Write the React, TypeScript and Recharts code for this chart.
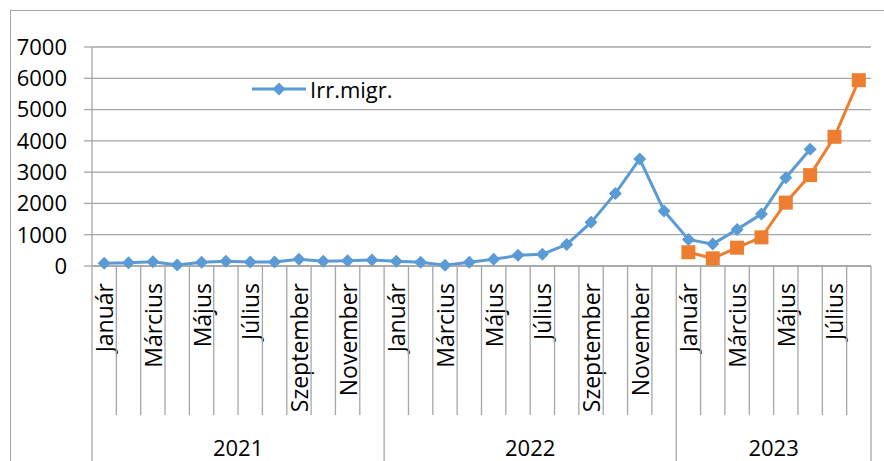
import { LineChart, Line, XAxis, YAxis, CartesianGrid } from 'recharts';

const monthNames = [
  'Január', 'Február', 'Március', 'Április', 'Május', 'Június',
  'Július', 'Augusztus', 'Szeptember', 'Október', 'November', 'December',
];
const years = ['2021', '2022', '2023'];
const monthsPerYear = [12, 12, 8];

// Irr.migr. – 2021 jan .. 2023 jún
const irrMigr = [
  90, 105, 135, 30, 120, 150, 130, 130, 215, 150, 170, 190,
  150, 120, 25, 120, 215, 340, 375, 690, 1395, 2320, 3420, 1760,
  850, 700, 1170, 1660, 2820, 3730,
];
// second series – 2023 jan .. aug
const series2023 = [440, 245, 585, 915, 2025, 2905, 4130, 5940];

const yTicks = [0, 1000, 2000, 3000, 4000, 5000, 6000, 7000];

const data = years.flatMap((year, yi) =>
  monthNames.slice(0, monthsPerYear[yi]).map((month, mi) => ({ year, month, mi }))
).map((d, i) => ({
  ...d,
  irr: i < irrMigr.length ? irrMigr[i] : null,
  s2: i >= 24 ? series2023[i - 24] : null,
}));

const W = 884;
const H = 461;
const M = { top: 47, right: 13, left: 0, bottom: 0 };
const Y_WIDTH = 92;
const X_HEIGHT = 195;
const PLOT_W = W - M.right - Y_WIDTH;
const BAND = PLOT_W / data.length;
const FONT = '"Open Sans", sans-serif';
const GRID = '#a6a6a6';
const BLUE = '#5b9bd5';
const ORANGE = '#ed7d31';

const Diamond = ({ cx, cy }: any) => {
  if (cx == null || cy == null) return null;
  return <path d={`M${cx},${cy - 6.5}L${cx + 6.5},${cy}L${cx},${cy + 6.5}L${cx - 6.5},${cy}Z`} fill={BLUE} />;
};

const Square = ({ cx, cy }: any) => {
  if (cx == null || cy == null) return null;
  return <rect x={cx - 7} y={cy - 7} width={14} height={14} fill={ORANGE} />;
};

const MonthTick = ({ x, y, index }: any) => {
  const d = data[index];
  const left = x - BAND / 2;
  const firstOfYear = d.mi === 0;
  const lastOne = index === data.length - 1;
  const yi = years.indexOf(d.year);
  const midIdx = Math.floor(monthsPerYear[yi] / 2);
  return (
    <g>
      <line x1={left} y1={y} x2={left} y2={firstOfYear ? H : y + 149} stroke={GRID} strokeWidth={1.3} />
      {lastOne && <line x1={x + BAND / 2} y1={y} x2={x + BAND / 2} y2={H} stroke={GRID} strokeWidth={1.3} />}
      {d.mi % 2 === 0 && (
        <text
          x={x}
          y={y + 17}
          transform={`rotate(-90 ${x} ${y + 17})`}
          textAnchor="end"
          dominantBaseline="central"
          fontSize={23}
          fontFamily={FONT}
          fill="#000"
        >
          {d.month}
        </text>
      )}
      {d.mi === midIdx && (
        <text
          x={monthsPerYear[yi] % 2 === 0 ? left : x}
          y={y + 181}
          textAnchor="middle"
          dominantBaseline="central"
          fontSize={22}
          fontFamily={FONT}
          fill="#000"
        >
          {d.year}
        </text>
      )}
    </g>
  );
};

export default function App() {
  return (
    <div style={{ position: 'relative', width: W, height: H, overflow: 'hidden', background: '#fff' }}>
      <style>{'body{margin:0}'}</style>
      <div
        style={{
          position: 'absolute', left: 10, top: 10, width: W, height: H,
          borderLeft: `1.5px solid ${GRID}`, borderTop: `1.5px solid ${GRID}`,
        }}
      />
      <LineChart width={W} height={H} data={data} margin={M} style={{ position: 'absolute', left: 0, top: 0 }}>
        <CartesianGrid vertical={false} stroke={GRID} strokeWidth={1.3} />
        <XAxis
          dataKey="month"
          interval={0}
          height={X_HEIGHT}
          tickSize={0}
          tickMargin={0}
          tickLine={false}
          padding={{ left: BAND / 2, right: BAND / 2 }}
          axisLine={{ stroke: GRID, strokeWidth: 1.3 }}
          tick={<MonthTick />}
          allowDuplicatedCategory
        />
        <YAxis
          width={Y_WIDTH}
          domain={[0, 7000]}
          ticks={yTicks}
          interval={0}
          tickSize={8}
          tickMargin={17}
          axisLine={{ stroke: GRID, strokeWidth: 1.3 }}
          tickLine={{ stroke: GRID, strokeWidth: 1.3 }}
          tick={{ fill: '#000', fontSize: 22, fontFamily: FONT }}
        />
        <Line
          dataKey="irr"
          name="Irr.migr."
          stroke={BLUE}
          strokeWidth={3}
          dot={<Diamond />}
          activeDot={false}
          isAnimationActive={false}
        />
        <Line
          dataKey="s2"
          stroke={ORANGE}
          strokeWidth={3}
          dot={<Square />}
          activeDot={false}
          legendType="none"
          isAnimationActive={false}
        />
      </LineChart>
      <div style={{ position: 'absolute', left: 251, top: 74, display: 'flex', alignItems: 'center', fontFamily: FONT, fontSize: 22 }}>
        <svg width={56} height={16}>
          <line x1={1} y1={8} x2={55} y2={8} stroke={BLUE} strokeWidth={3} />
          <path d="M28,1.5L34.5,8L28,14.5L21.5,8Z" fill={BLUE} />
        </svg>
        <span style={{ marginLeft: 3, color: '#000' }}>Irr.migr.</span>
      </div>
    </div>
  );
}
